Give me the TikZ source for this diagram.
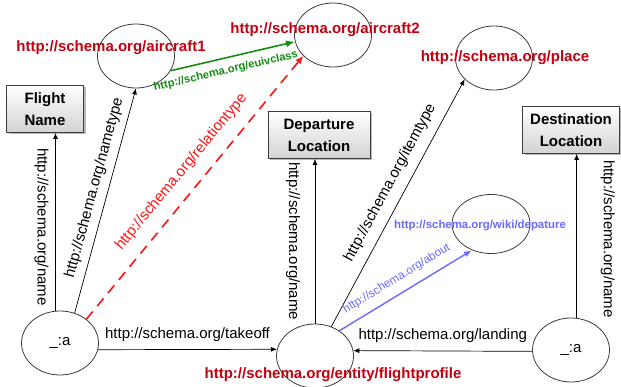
\documentclass[tikz,border=0pt]{standalone}
\usepackage{fontspec}
\setmainfont{Liberation Sans}
\usetikzlibrary{shapes.geometric,arrows.meta,shadows,calc}
\definecolor{urlred}{RGB}{196,0,16}
\definecolor{relred}{RGB}{255,20,20}
\definecolor{clsgreen}{RGB}{20,140,20}
\definecolor{aboutblue}{RGB}{105,105,255}
\definecolor{outline}{RGB}{60,60,60}
\begin{document}
\begin{tikzpicture}[x=1pt,y=-1pt,
  res/.style={ellipse, draw=outline, line width=0.8pt, minimum width=77pt,
    minimum height=64pt, inner sep=0pt, font=\fontsize{15}{18}\selectfont},
  box/.style={rectangle, draw=outline, line width=0.9pt, top color=white,
    bottom color=gray!35, align=center, minimum height=47pt, inner sep=0pt,
    font=\bfseries\fontsize{15}{22}\selectfont,
    drop shadow={shadow xshift=2pt, shadow yshift=-2pt, fill=gray!55, opacity=1}},
  urllbl/.style={text=urlred, inner sep=0pt, font=\bfseries\fontsize{15}{18}\selectfont},
  lbl/.style={inner sep=0pt, font=\fontsize{15}{18}\selectfont},
  edge/.style={draw=black, line width=0.7pt, -{Latex[length=6pt,width=5pt]}},
]
\useasboundingbox (0,0) rectangle (621,387);

% resource ellipses
\node[res] (a1) at (60,343) {\_:a};
\node[res] (fp) at (315,356) {};
\node[res] (a2) at (571,350) {\_:a};
\node[res] (ac1) at (136,56) {};
\node[res] (ac2) at (333,35) {};
\node[res] (pl) at (494,58) {};
\node[res, minimum width=78pt, minimum height=59pt] (wk) at (491,224) {};

% literal boxes
\node[box, minimum width=77pt] (fn) at (45,109) {Flight\\Name};
\node[box, minimum width=102pt] (dep) at (319,135) {Departure\\Location};
\node[box, minimum width=97pt] (dst) at (571,130) {Destination\\Location};

% resource URIs
\node[urllbl] (lac1) at (111,48) {http://schema.org/aircraft1};
\node[urllbl] (lac2) at (325,30) {http://schema.org/aircraft2};
\node[urllbl] (lpl) at (505,58) {http://schema.org/place};
\node[urllbl] (lfp) at (333,375) {http://schema.org/entity/flightprofile};
\node[text=aboutblue, inner sep=0pt, font=\bfseries\fontsize{11.4}{14}\selectfont] (lwk) at (480,226) {http://schema.org/wiki/depature};

% name properties
\draw[edge] (a1.98) -- (a1.98 |- fn.south)
  node[midway, xshift=-14pt, yshift=-5pt, rotate=-90, lbl] {http://schema.org/name};
\draw[edge] (fp.north) -- (fp.north |- dep.south)
  node[midway, xshift=-22pt, rotate=-90, lbl] {http://schema.org/name};
\draw[edge] (a2.80) -- (a2.80 |- dst.south)
  node[midway, xshift=31pt, yshift=-3pt, rotate=-90, lbl] {http://schema.org/name};

% type properties
\draw[edge] (a1.64) -- (ac1.south)
  node[pos=.54, sloped, above=6.5pt, lbl] {http://schema.org/nametype};
\draw[edge] (fp.61) -- (pl.216)
  node[pos=.55, sloped, above=9pt, lbl] {http://schema.org/itemtype};

% class equivalence
\draw[draw=clsgreen, line width=1.6pt, -{Latex[length=9pt,width=7pt]}] (ac1.337) -- (ac2.190)
  node[pos=.42, sloped, below=7pt, inner sep=0pt, text=clsgreen,
       font=\bfseries\fontsize{11.2}{14}\selectfont] {http://schema.org/euivclass};

% relation type
\draw[draw=relred, line width=1.6pt, dash pattern=on 10pt off 7pt,
      -{Latex[length=8pt,width=7pt]}] (a1.42) -- (ac2.215)
  node[pos=.51, sloped, above=12.5pt, lbl, text=relred] {http://schema.org/relationtype};

% about
\draw[draw=aboutblue, line width=1.4pt, -{Latex[length=8pt,width=6pt]}] (fp.46) -- (wk.234)
  node[pos=.49, sloped, above=8.5pt, inner sep=0pt, text=aboutblue,
       font=\fontsize{11.7}{14}\selectfont] {http://schema.org/about};

% flight legs
\draw[edge] (a1.-10) -- (fp.170)
  node[midway, above=8pt, lbl] {http://schema.org/takeoff};
\draw[edge] (a2.182) -- (fp.8)
  node[midway, above=8pt, lbl] {http://schema.org/landing};
\end{tikzpicture}
\end{document}
